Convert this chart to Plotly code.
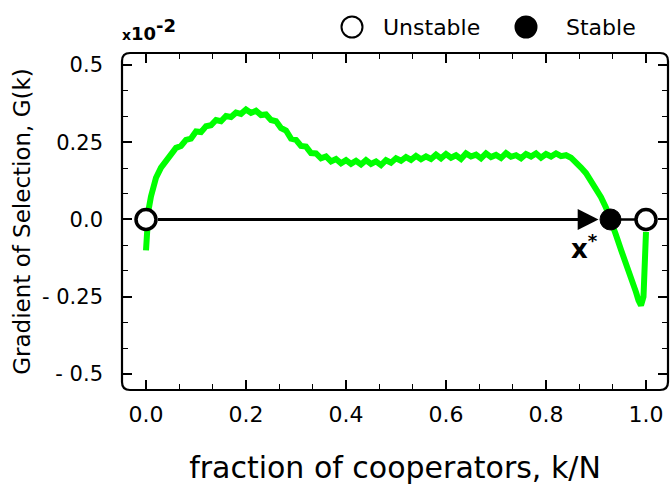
import plotly.graph_objects as go

# ---- data (values in units of 1e-2) ----
k_frac = [0.0, 0.002, 0.005, 0.01, 0.015,
          0.02, 0.03, 0.04, 0.05, 0.06, 0.07, 0.08, 0.09, 0.10,
          0.11, 0.12, 0.13, 0.14, 0.15, 0.16, 0.17, 0.18, 0.19, 0.20,
          0.21, 0.22, 0.23, 0.24, 0.25, 0.26, 0.27, 0.28, 0.29, 0.30,
          0.31, 0.32, 0.33, 0.34, 0.35, 0.36, 0.37, 0.38, 0.39, 0.40,
          0.41, 0.42, 0.43, 0.44, 0.45, 0.46, 0.47, 0.48, 0.49, 0.50,
          0.51, 0.52, 0.53, 0.54, 0.55, 0.56, 0.57, 0.58, 0.59, 0.60,
          0.61, 0.62, 0.63, 0.64, 0.65, 0.66, 0.67, 0.68, 0.69, 0.70,
          0.71, 0.72, 0.73, 0.74, 0.75, 0.76, 0.77, 0.78, 0.79, 0.80,
          0.81, 0.82, 0.83, 0.84, 0.85, 0.86, 0.87, 0.88, 0.89, 0.90,
          0.91, 0.92, 0.93, 0.94, 0.95, 0.96, 0.97, 0.98, 0.985, 0.99,
          0.995, 0.998, 1.0]
gradient = [-0.100, -0.040, 0.030, 0.075, 0.108,
            0.135, 0.168, 0.192, 0.212, 0.232, 0.238, 0.258, 0.262, 0.285,
            0.283, 0.302, 0.305, 0.322, 0.318, 0.335, 0.332, 0.346, 0.342, 0.356,
            0.345, 0.352, 0.338, 0.340, 0.322, 0.318, 0.296, 0.288, 0.262, 0.258,
            0.238, 0.236, 0.215, 0.214, 0.198, 0.204, 0.188, 0.196, 0.182, 0.192,
            0.180, 0.190, 0.178, 0.192, 0.180, 0.188, 0.176, 0.192, 0.184, 0.198,
            0.190, 0.202, 0.193, 0.206, 0.195, 0.204, 0.196, 0.210, 0.198, 0.212,
            0.200, 0.208, 0.196, 0.214, 0.204, 0.210, 0.198, 0.214, 0.202, 0.209,
            0.199, 0.215, 0.203, 0.208, 0.198, 0.212, 0.204, 0.214, 0.200, 0.212,
            0.204, 0.214, 0.205, 0.208, 0.200, 0.186, 0.168, 0.150, 0.126, 0.102,
            0.072, 0.038, 0.000, -0.050, -0.098, -0.140, -0.180, -0.235, -0.262, -0.278,
            -0.250, -0.150, -0.040]

unstable_x = [0.0, 1.0]
unstable_y = [0.0, 0.0]
stable_x = [0.929]
stable_y = [0.0]

x_ticks = [0.0, 0.2, 0.4, 0.6, 0.8, 1.0]
x_ticklabels = ["0.0", "0.2", "0.4", "0.6", "0.8", "1.0"]
y_ticks = [0.5, 0.25, 0.0, -0.25, -0.5]
y_ticklabels = ["0.5", "0.25", "0.0", "- 0.25", "- 0.5"]

FONT = "DejaVu Sans, Liberation Sans, Arial, sans-serif"

fig = go.Figure()

fig.add_trace(go.Scatter(x=k_frac, y=gradient, mode="lines",
                         line=dict(color="#00ff00", width=6),
                         showlegend=False, hoverinfo="skip"))
# segment between stable and right unstable point
fig.add_trace(go.Scatter(x=[stable_x[0], unstable_x[1]], y=[0, 0], mode="lines",
                         line=dict(color="black", width=2.5),
                         showlegend=False, hoverinfo="skip"))

fig.add_trace(go.Scatter(x=unstable_x, y=unstable_y, mode="markers",
                         marker=dict(size=20, color="white",
                                     line=dict(color="black", width=3.5)),
                         showlegend=False, hoverinfo="skip", cliponaxis=False))
fig.add_trace(go.Scatter(x=stable_x, y=stable_y, mode="markers",
                         marker=dict(size=21, color="black",
                                     line=dict(color="black", width=1)),
                         showlegend=False, hoverinfo="skip", cliponaxis=False))

# arrow from left unstable point to stable point
fig.add_annotation(x=0.905, y=0, ax=0.021, ay=0, xref="x", yref="y",
                   axref="x", ayref="y", showarrow=True, arrowhead=2,
                   arrowsize=1.3, arrowwidth=3.2, arrowcolor="black", text="")

fig.add_annotation(x=0.876, y=-0.088, xref="x", yref="y", showarrow=False,
                   text="<b>x<sup>*</sup></b>",
                   font=dict(family=FONT, size=26, color="black"))

# rounded frame
rx, ry = 8 / 546, 8 / 337
path = (f"M {rx},0 L {1-rx},0 Q 1,0 1,{ry} L 1,{1-ry} Q 1,1 {1-rx},1 "
        f"L {rx},1 Q 0,1 0,{1-ry} L 0,{ry} Q 0,0 {rx},0 Z")
fig.add_shape(type="path", path=path, xref="paper", yref="paper",
              line=dict(color="black", width=2.2), layer="above")

# legend (manual)
W, H, L, B = 546, 337, 122, 390
def px(xp):
    return (xp - L) / W
def py(yp):
    return (B - yp) / H

fig.add_shape(type="circle", xref="paper", yref="paper", xsizemode="pixel",
              ysizemode="pixel", xanchor=px(352), yanchor=py(27),
              x0=-10.5, x1=10.5, y0=-10.5, y1=10.5,
              line=dict(color="black", width=2), fillcolor="white")
fig.add_shape(type="circle", xref="paper", yref="paper", xsizemode="pixel",
              ysizemode="pixel", xanchor=px(526), yanchor=py(27),
              x0=-10.5, x1=10.5, y0=-10.5, y1=10.5,
              line=dict(color="black", width=2), fillcolor="black")
fig.add_annotation(x=px(381), y=py(28), xref="paper", yref="paper",
                   xanchor="left", yanchor="middle", showarrow=False,
                   text="Unstable", font=dict(family=FONT, size=22, color="black"))
fig.add_annotation(x=px(564), y=py(28), xref="paper", yref="paper",
                   xanchor="left", yanchor="middle", showarrow=False,
                   text="Stable", font=dict(family=FONT, size=22, color="black"))

fig.add_annotation(x=px(120), y=py(30), xref="paper", yref="paper",
                   xanchor="left", yanchor="middle", showarrow=False,
                   text=("<b><span style='font-size:14px'>x</span>10"
                         "<sup><span style='font-size:18px'>-2</span></sup></b>"),
                   font=dict(family=FONT, size=18, color="black"))

fig.update_layout(
    width=670, height=486,
    margin=dict(l=122, r=2, t=53, b=96),
    paper_bgcolor="white", plot_bgcolor="white",
    font=dict(family=FONT, color="black"),
    xaxis=dict(range=[-0.048, 1.044], tickvals=x_ticks, ticktext=x_ticklabels,
               ticks="inside", ticklen=10, tickwidth=1.5, tickcolor="black",
               mirror="ticks", showline=False, showgrid=False, zeroline=False,
               tickfont=dict(size=22, family=FONT), ticklabelstandoff=9,
               minor=dict(ticks="inside", ticklen=6, tickwidth=1.2,
                          tickcolor="black", dtick=0.2 / 3, tick0=0, showgrid=False),
               title=dict(text="fraction of cooperators, k/N",
                          font=dict(size=30, family=FONT), standoff=30)),
    yaxis=dict(range=[-0.552, 0.539], tickvals=y_ticks, ticktext=y_ticklabels,
               ticks="inside", ticklen=10, tickwidth=1.5, tickcolor="black",
               mirror="ticks", showline=False, showgrid=False, zeroline=False,
               tickfont=dict(size=21, family=FONT), ticklabelstandoff=18,
               minor=dict(ticks="inside", ticklen=6, tickwidth=1.2,
                          tickcolor="black", dtick=0.25 / 3, tick0=0, showgrid=False),
               title=dict(text="Gradient of Selection, G(k)",
                          font=dict(size=23, family=FONT), standoff=4)),
)

fig.write_html("out.html")
